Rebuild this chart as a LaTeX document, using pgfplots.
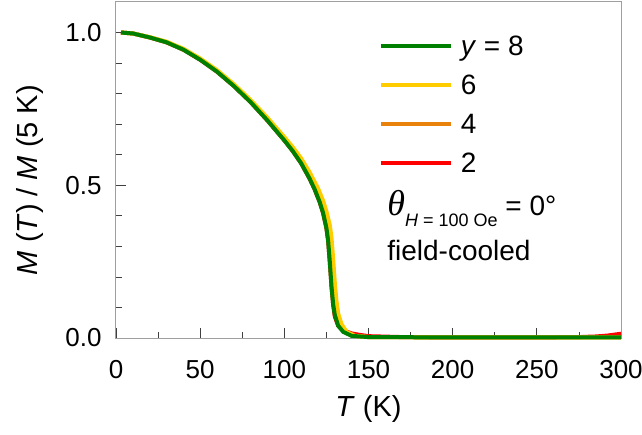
\documentclass[border=0pt]{standalone}
\usepackage{fontspec}
\setmainfont{Liberation Sans}
\newfontfamily\thetafont{Liberation Serif}
\usepackage{pgfplots}
\pgfplotsset{compat=1.18}

\definecolor{cgreen}{RGB}{0,128,0}
\definecolor{cyellow}{RGB}{255,204,0}
\definecolor{corange}{RGB}{232,130,12}
\definecolor{cred}{RGB}{255,0,0}

% M(T)/M(5K), one table per composition
\pgfplotstableread{
T M
3 1.000
10 0.997
20 0.984
30 0.968
40 0.944
50 0.911
60 0.872
70 0.825
80 0.772
90 0.712
100 0.647
105 0.612
110 0.572
115 0.522
118 0.487
121 0.445
123 0.41
125 0.36
126 0.32
127 0.25
128 0.17
129 0.11
130 0.075
132 0.04
135 0.02
140 0.007
150 0.003
200 0.002
250 0.002
300 0.002
}\yeight
\pgfplotstableread{
T M
3 1.000
10 0.997
20 0.985
30 0.970
40 0.947
50 0.915
60 0.877
70 0.831
80 0.779
90 0.721
100 0.658
105 0.625
110 0.588
115 0.543
120 0.490
123 0.450
125 0.415
127 0.370
128 0.330
129 0.260
130 0.180
131 0.120
132 0.080
134 0.045
137 0.020
142 0.007
150 0.003
200 0.002
300 0.002
}\ysix
\pgfplotstableread{
T M
3 1.000
10 0.997
20 0.984
30 0.969
40 0.945
50 0.913
60 0.874
70 0.828
80 0.775
90 0.716
100 0.652
105 0.618
110 0.579
115 0.531
120 0.475
123 0.43
125 0.39
127 0.33
128 0.27
129 0.19
130 0.12
131 0.08
133 0.045
136 0.02
140 0.008
150 0.003
200 0.002
300 0.002
}\yfour
\pgfplotstableread{
T M
3 1.000
10 0.997
20 0.984
30 0.968
40 0.944
50 0.911
60 0.872
70 0.825
80 0.772
90 0.712
100 0.647
105 0.612
110 0.572
115 0.522
118 0.487
121 0.445
123 0.41
125 0.36
126 0.32
127 0.25
128 0.17
129 0.11
130 0.07
132 0.04
135 0.025
140 0.015
145 0.010
150 0.006
170 0.003
200 0.002
250 0.002
275 0.003
285 0.005
292 0.008
300 0.014
}\ytwo

\begin{document}
\begin{tikzpicture}
\begin{axis}[
    scale only axis,
    width=505pt, height=336pt,
    xmin=0, xmax=300, ymin=0, ymax=1.1,
    xtick={0,50,...,300},
    ytick={0,0.5,1.0},
    minor x tick num=1,
    minor y tick num=4,
    tick align=inside,
    xtick pos=bottom, ytick pos=left,
    major tick length=10pt,
    minor tick length=6pt,
    axis line style={gray!75, line width=1pt},
    tick style={gray!50!black, line width=0.8pt},
    yticklabel style={/pgf/number format/fixed, /pgf/number format/fixed zerofill, /pgf/number format/precision=1},
    /pgf/number format/assume math mode=true,
    tick label style={font=\fontsize{26}{29}\selectfont},
    xticklabel shift=19pt,
    yticklabel shift=11pt,
    label style={font=\fontsize{29}{32}\selectfont},
    xlabel={\textit{T} (K)},
    ylabel={\textit{M} (\textit{T}) / \textit{M} (5 K)},
    xlabel style={at={(axis description cs:0.5,-0.21)}, anchor=center},
    ylabel style={at={(axis description cs:-0.17,0.47)}, anchor=center},
    clip=false,
    reverse legend,
    legend cell align=left,
    legend image code/.code={\draw[#1] (0pt,0pt) -- (70pt,0pt);},
    legend style={draw=none, fill=none, inner sep=0pt,
        at={(axis description cs:0.52,0.906)}, anchor=north west,
        font=\fontsize{28}{30}\selectfont, row sep=14pt,
        /tikz/every odd column/.append style={column sep=6pt}},
]
\addplot[cred, line width=4pt] table[x=T, y=M] {\ytwo};
\addlegendentry{2}
\addplot[corange, line width=4pt] table[x=T, y=M] {\yfour};
\addlegendentry{4}
\addplot[cyellow, line width=4pt] table[x=T, y=M] {\ysix};
\addlegendentry{6}
\addplot[cgreen, line width=4pt] table[x=T, y=M] {\yeight};
\addlegendentry{\textit{y} = 8}
\node[anchor=base west, font=\fontsize{28}{30}\selectfont, inner sep=0pt]
    at (axis description cs:0.537,0.366)
    {{\thetafont\itshape\fontsize{36}{38}\selectfont θ}\raisebox{-11pt}{\fontsize{18}{20}\selectfont\textit{H} = 100 Oe} = 0°};
\node[anchor=base west, font=\fontsize{28}{30}\selectfont, inner sep=0pt]
    at (axis description cs:0.537,0.232) {field-cooled};
\end{axis}
\pgfresetboundingbox
\path (-116pt,-96pt) rectangle (526pt,338pt);
\end{tikzpicture}
\end{document}
